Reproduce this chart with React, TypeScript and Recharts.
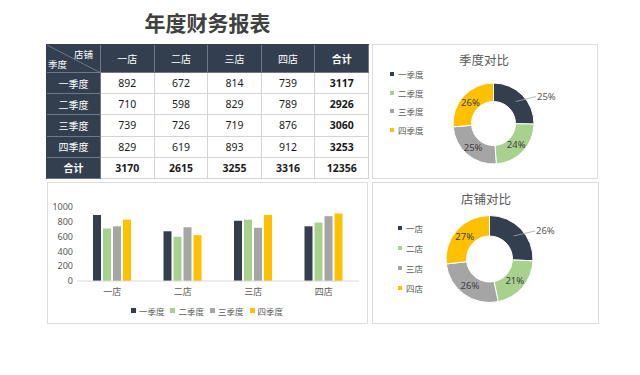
import React from "react"
import { Bar, BarChart, Cell, Legend, Pie, PieChart, XAxis, YAxis } from "recharts"

const stores = ["一店", "二店", "三店", "四店"]
const quarters = ["一季度", "二季度", "三季度", "四季度"]
const q1 = [892, 672, 814, 739]
const q2 = [710, 598, 829, 789]
const q3 = [739, 726, 719, 876]
const q4 = [829, 619, 893, 912]
const quarterTotals = [3117, 2926, 3060, 3253]
const storeTotals = [3170, 2615, 3255, 3316]
const grandTotal = 12356
const yTicks = [0, 200, 400, 600, 800, 1000]
const colors = ["#333F4F", "#A9D18E", "#A5A5A5", "#FFC000"]

const FONT = "'Noto Sans', 'Noto Sans CJK SC', sans-serif"
const DARK = "#333F4F"

const quarterRows = [q1, q2, q3, q4]
const barData = stores.map((s, i) => ({ store: s, q1: q1[i], q2: q2[i], q3: q3[i], q4: q4[i] }))
const quarterPie = quarters.map((q, i) => ({ name: q, value: quarterTotals[i] }))
const storePie = stores.map((s, i) => ({ name: s, value: storeTotals[i] }))

const RAD = Math.PI / 180

function pieLabel(props: any) {
  const { cx, cy, midAngle, innerRadius, outerRadius, percent, index } = props
  const r = (innerRadius + outerRadius) / 2
  const x = cx + r * Math.cos(-midAngle * RAD)
  const y = cy + r * Math.sin(-midAngle * RAD)
  const text = `${Math.round(percent * 100)}%`
  if (index === 0) {
    const ex = cx + outerRadius + 2
    const ey = y - 5
    return (
      <g>
        <line x1={x} y1={y} x2={ex} y2={ey} stroke="#a6a6a6" strokeWidth={0.8} />
        <text x={ex + 1} y={ey} textAnchor="start" dominantBaseline="central" fontSize={9.5} fill="#595959">
          {text}
        </text>
      </g>
    )
  }
  return (
    <text x={x} y={y} textAnchor="middle" dominantBaseline="central" fontSize={9.5} fill="#404040">
      {text}
    </text>
  )
}

// legend rows come straight from the name arrays so the order stays as in the sheet
const pieLegend = (names: string[], rowH: number) => () => (
  <div>
    {names.map((n, i) => (
      <div key={n} style={{ height: rowH, display: "flex", alignItems: "center", fontSize: 8.5, color: "#595959" }}>
        <span style={{ width: 4, height: 4, background: colors[i], marginRight: 4, display: "inline-block" }} />
        {n}
      </div>
    ))}
  </div>
)

const barLegend = () => (
  <div style={{ height: 26, display: "flex", justifyContent: "center", alignItems: "center", paddingTop: 1, boxSizing: "border-box" }}>
    {quarters.map((q, i) => (
      <div key={q} style={{ display: "flex", alignItems: "center", fontSize: 8.5, color: "#595959", marginRight: i < 3 ? 6 : 0 }}>
        <span style={{ width: 5, height: 5, background: colors[i], marginRight: 3, display: "inline-block" }} />
        {q}
      </div>
    ))}
  </div>
)

function FinanceTable() {
  const colW = [54, 53.6, 53.6, 53.6, 53.6, 53.6]
  const rowH = [28, 21.2, 21.2, 21.2, 21.2, 21.2]
  const cells: React.ReactNode[] = []
  const header = ["", ...stores, "合计"]
  const rows: (string | number)[][] = [
    header,
    ...quarters.map((q, i) => [q, ...quarterRows[i], quarterTotals[i]]),
    ["合计", ...storeTotals, grandTotal],
  ]
  rows.forEach((row, r) => {
    row.forEach((val, c) => {
      const dark = r === 0 || c === 0
      const bold = c === 5 || r === 5
      const style: React.CSSProperties = {
        boxSizing: "border-box",
        background: dark ? DARK : "#fff",
        color: dark ? "#fff" : "#1a1a1a",
        fontWeight: bold ? 700 : 400,
        fontSize: dark ? 10 : 10.5,
        display: "flex",
        alignItems: "center",
        justifyContent: "center",
        borderRight: `1px solid ${dark ? "#6f7887" : "#d4d4d4"}`,
        borderBottom: `1px solid ${dark ? "#6f7887" : "#d4d4d4"}`,
        position: "relative",
      }
      if (r === 0 && c === 0) {
        cells.push(
          <div key={`${r}-${c}`} style={style}>
            <svg width={54} height={28} style={{ position: "absolute", left: 0, top: 0 }}>
              <line x1={0} y1={0} x2={54} y2={28} stroke="#7f8896" strokeWidth={0.8} />
            </svg>
            <span style={{ position: "absolute", right: 7, top: 2, fontSize: 9.5 }}>店铺</span>
            <span style={{ position: "absolute", left: 1, bottom: 1, fontSize: 9.5 }}>季度</span>
          </div>
        )
      } else {
        cells.push(
          <div key={`${r}-${c}`} style={style}>
            {val}
          </div>
        )
      }
    })
  })
  return (
    <div
      style={{
        position: "absolute",
        left: 46,
        top: 44,
        display: "grid",
        gridTemplateColumns: colW.map((w) => `${w}px`).join(" "),
        gridTemplateRows: rowH.map((h) => `${h}px`).join(" "),
        borderLeft: `1px solid ${DARK}`,
        borderTop: `1px solid ${DARK}`,
      }}
    >
      {cells}
    </div>
  )
}

const panel: React.CSSProperties = {
  position: "absolute",
  border: "1px solid #dcdcdc",
  boxSizing: "border-box",
  background: "#fff",
}

export default function App() {
  return (
    <div style={{ position: "absolute", left: 0, top: 0, width: 640, height: 375, background: "#fff", fontFamily: FONT }}>
      <div
        style={{
          position: "absolute",
          left: 0,
          width: 415,
          top: 9,
          textAlign: "center",
          fontSize: 21,
          fontWeight: 700,
          color: "#404040",
          lineHeight: "28px",
        }}
      >
        年度财务报表
      </div>

      <FinanceTable />

      <div style={{ ...panel, left: 372, top: 44, width: 226, height: 135 }}>
        <div style={{ position: "absolute", left: 0, width: 222, top: 5, textAlign: "center", fontSize: 12.5, color: "#595959" }}>
          季度对比
        </div>
        <div style={{ position: "absolute", left: -1, top: -1 }}>
          <PieChart width={226} height={135} margin={{ top: 0, right: 0, bottom: 0, left: 0 }}>
            <Pie
              data={quarterPie}
              dataKey="value"
              nameKey="name"
              cx={121.5}
              cy={79.5}
              innerRadius={22}
              outerRadius={40.5}
              startAngle={90}
              endAngle={-270}
              stroke="#fff"
              strokeWidth={1}
              label={pieLabel}
              labelLine={false}
              isAnimationActive={false}
            >
              {quarterPie.map((_, i) => (
                <Cell key={i} fill={colors[i]} />
              ))}
            </Pie>
            <Legend
              layout="vertical"
              align="center"
              verticalAlign="middle"
              content={pieLegend(quarters, 18.5)}
              wrapperStyle={{ left: 18, top: 21, width: 60 }}
            />
          </PieChart>
        </div>
      </div>

      <div style={{ ...panel, left: 47, top: 182, width: 321, height: 142 }}>
        <div style={{ position: "absolute", left: -1, top: -1 }}>
          <BarChart
            width={320}
            height={141}
            data={barData}
            margin={{ top: 25, right: 8, bottom: 0, left: 0 }}
            barSize={8}
            barGap={2}
          >
            <XAxis
              dataKey="store"
              axisLine={{ stroke: "#d9d9d9" }}
              tickLine={false}
              tick={{ fontSize: 9, fill: "#595959" }}
              height={16}
              tickMargin={2}
            />
            <YAxis
              domain={[0, 1000]}
              ticks={yTicks}
              axisLine={false}
              tickLine={false}
              tick={{ fontSize: 9, fill: "#595959" }}
              width={30}
              tickSize={2}
              tickMargin={2}
              interval={0}
            />
            <Legend verticalAlign="bottom" content={barLegend} wrapperStyle={{ left: 0, width: 320 }} />
            <Bar dataKey="q1" name="一季度" fill={colors[0]} isAnimationActive={false} />
            <Bar dataKey="q2" name="二季度" fill={colors[1]} isAnimationActive={false} />
            <Bar dataKey="q3" name="三季度" fill={colors[2]} isAnimationActive={false} />
            <Bar dataKey="q4" name="四季度" fill={colors[3]} isAnimationActive={false} />
          </BarChart>
        </div>
      </div>

      <div style={{ ...panel, left: 372, top: 182, width: 227, height: 142 }}>
        <div style={{ position: "absolute", left: 0, width: 226, top: 6, textAlign: "center", fontSize: 12.5, color: "#595959" }}>
          店铺对比
        </div>
        <div style={{ position: "absolute", left: -1, top: -1 }}>
          <PieChart width={227} height={142} margin={{ top: 0, right: 0, bottom: 0, left: 0 }}>
            <Pie
              data={storePie}
              dataKey="value"
              nameKey="name"
              cx={117.5}
              cy={77}
              innerRadius={23}
              outerRadius={43.5}
              startAngle={90}
              endAngle={-270}
              stroke="#fff"
              strokeWidth={1}
              label={pieLabel}
              labelLine={false}
              isAnimationActive={false}
            >
              {storePie.map((_, i) => (
                <Cell key={i} fill={colors[i]} />
              ))}
            </Pie>
            <Legend
              layout="vertical"
              align="center"
              verticalAlign="middle"
              content={pieLegend(stores, 20)}
              wrapperStyle={{ left: 26, top: 36, width: 60 }}
            />
          </PieChart>
        </div>
      </div>
    </div>
  )
}
